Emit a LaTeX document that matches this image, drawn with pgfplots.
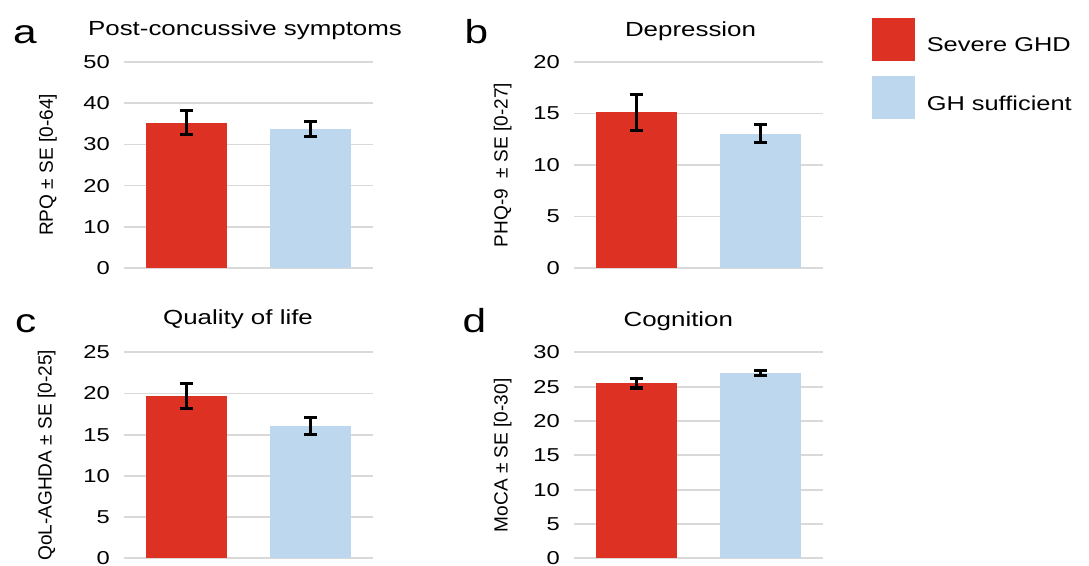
\documentclass[border=0pt]{standalone}
\usepackage{fontspec}
\setmainfont{Liberation Sans}
\newfontfamily\hfont[FakeStretch=1.27]{Liberation Sans}
\usepackage{pgfplots}
\pgfplotsset{compat=1.18}
\definecolor{sred}{HTML}{DD3124}
\definecolor{sblue}{HTML}{BDD7EE}
\definecolor{gridc}{HTML}{D9D9D9}
\pgfplotsset{
 panel/.style={
  scale only axis, width=186.75pt, height=154.5pt,
  xmin=-0.5, xmax=1.5, ymin=0,
  xtick=\empty, axis line style={draw=none}, major tick length=0pt,
  ymajorgrids, grid style={gridc, line width=1.3pt},
  /pgf/number format/assume math mode=true,
  yticklabel style={font=\hfont\fontsize{14}{14}\selectfont, inner sep=0pt, xshift=-10.5pt, anchor=east},
  ylabel style={font=\fontsize{14.3}{14.3}\selectfont, anchor=center},
  clip=false,
 },
 bars/.style={ybar, bar width=60.75pt, bar shift=0pt, draw=none, fill=#1, forget plot},
 eb/.style={/pgfplots/error bars/.cd, y dir=both, y explicit,
   error bar style={draw=black, line width=2.4pt},
   error mark options={draw=black, rotate=90, mark size=5pt, line width=2.4pt}},
}
\newcommand{\plab}{\hfont\fontsize{25}{25}\selectfont}
\tikzset{ptitle/.style={anchor=base, inner sep=0pt, font=\hfont\fontsize{15.3}{15.3}\selectfont}}
\begin{document}
\begin{tikzpicture}
\useasboundingbox (0pt,0pt) rectangle (816.75pt,423.75pt);
% panel a
\begin{axis}[panel, at={(93pt,222.75pt)}, anchor=south west,
  ymax=50, ytick={0,10,20,30,40,50},
  ylabel={RPQ ± SE [0-64]},
  ylabel style={at={(axis description cs:-0.305,0.5)}}]
\addplot[bars=sred, eb] coordinates {(0,35.3) +- (0,2.9)};
\addplot[bars=sblue, eb] coordinates {(1,33.7) +- (0,1.8)};
\node[ptitle] at (axis description cs:0.486,1.131) {Post-concussive symptoms};
\node[anchor=base west, inner sep=0pt, font=\plab] at (axis description cs:-0.446,1.092) {a};
\end{axis}
% panel b
\begin{axis}[panel, at={(430.5pt,222.75pt)}, anchor=south west,
  ymax=20, ytick={0,5,10,15,20},
  ylabel={PHQ-9 \ ± SE [0-27]},
  ylabel style={at={(axis description cs:-0.286,0.5)}},
  legend style={at={(1.194,1.217)}, anchor=north west, draw=none, fill=none,
    inner sep=0pt, row sep=12pt, font=\hfont\fontsize{15}{15}\selectfont,
    cells={anchor=west}},
  /tikz/every odd column/.append style={column sep=7.5pt}]
\addplot[bars=sred, eb] coordinates {(0,15.1) +- (0,1.75)};
\addplot[bars=sblue, eb] coordinates {(1,13.05) +- (0,0.9)};
\addlegendimage{legend image code/.code={\fill[sred] (0pt,-10.4pt) rectangle (31.5pt,21.1pt);}}
\addlegendentry{Severe GHD}
\addlegendimage{legend image code/.code={\fill[sblue] (0pt,-10.4pt) rectangle (31.5pt,21.1pt);}}
\addlegendentry{GH sufficient}
\node[ptitle] at (axis description cs:0.468,1.125) {Depression};
\node[anchor=base west, inner sep=0pt, font=\plab] at (axis description cs:-0.44,1.088) {b};
\end{axis}
% panel c
\begin{axis}[panel, at={(93pt,5pt)}, anchor=south west,
  ymax=25, ytick={0,5,10,15,20,25},
  ylabel={QoL-AGHDA ± SE [0-25]},
  ylabel style={at={(axis description cs:-0.31,0.5)}}]
\addplot[bars=sred, eb] coordinates {(0,19.7) +- (0,1.55)};
\addplot[bars=sblue, eb] coordinates {(1,16.05) +- (0,1.05)};
\node[ptitle] at (axis description cs:0.458,1.135) {Quality of life};
\node[anchor=base west, inner sep=0pt, font=\plab] at (axis description cs:-0.438,1.096) {c};
\end{axis}
% panel d
\begin{axis}[panel, at={(430.5pt,5pt)}, anchor=south west,
  ymax=30, ytick={0,5,10,15,20,25,30},
  ylabel={MoCA ± SE [0-30]},
  ylabel style={at={(axis description cs:-0.286,0.5)}}]
\addplot[bars=sred, eb] coordinates {(0,25.5) +- (0,0.7)};
\addplot[bars=sblue, eb] coordinates {(1,27.0) +- (0,0.4)};
\node[ptitle] at (axis description cs:0.419,1.125) {Cognition};
\node[anchor=base west, inner sep=0pt, font=\plab] at (axis description cs:-0.448,1.096) {d};
\end{axis}
\end{tikzpicture}
\end{document}
